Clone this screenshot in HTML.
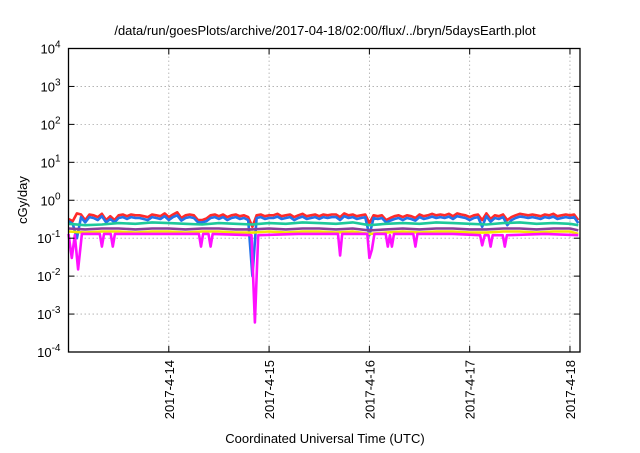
<!DOCTYPE html>
<html><head><meta charset="utf-8"><style>
body{margin:0;background:#fff;width:640px;height:448px;overflow:hidden}
svg{font-family:"Liberation Sans",Arial,sans-serif}
</style></head><body>
<svg id="chart" width="640" height="448" viewBox="0 0 640 448" xmlns="http://www.w3.org/2000/svg">
<rect width="640" height="448" fill="#fff"/>
<text x="325" y="35" font-size="13" text-anchor="middle" fill="#000">/data/run/goesPlots/archive/2017-04-18/02:00/flux/../bryn/5daysEarth.plot</text>
<text transform="translate(27,200) rotate(-90)" font-size="13" text-anchor="middle" fill="#000">cGy/day</text>
<text x="325" y="443" font-size="13" text-anchor="middle" fill="#000">Coordinated Universal Time (UTC)</text>
<g id="grid"></g><g id="series"></g><g id="axes"></g>
</svg>
<script>
const dayLabels=["2017-4-14","2017-4-15","2017-4-16","2017-4-17","2017-4-18"];
const dayTicks=[1,2,3,4,5];
const yExponents=[-4,-3,-2,-1,0,1,2,3,4];
const redValues=[.32,.28,.45,.42,.30,.42,.40,.36,.44,.30,.38,.30,.40,.42,.38,.42,.40,.40,.38,.36,.42,.40,.38,.45,.36,.42,.48,.34,.40,.42,.40,.30,.30,.33,.40,.42,.38,.42,.36,.40,.42,.38,.40,.36,.20,.40,.42,.38,.40,.40,.44,.38,.40,.42,.36,.40,.44,.38,.40,.42,.38,.42,.40,.42,.42,.36,.45,.40,.42,.38,.40,.42,.25,.40,.38,.40,.30,.34,.38,.40,.36,.40,.38,.34,.42,.38,.40,.44,.40,.42,.40,.44,.38,.45,.42,.40,.36,.40,.42,.30,.45,.32,.40,.38,.42,.30,.36,.40,.44,.42,.40,.42,.40,.38,.42,.40,.44,.38,.40,.42,.40,.42,.30];
const blueValues=[.28,.24,.10,.36,.26,.36,.34,.30,.38,.26,.32,.26,.34,.36,.32,.36,.34,.34,.32,.30,.36,.34,.32,.38,.30,.36,.40,.29,.34,.36,.34,.26,.26,.28,.34,.36,.32,.36,.30,.34,.36,.32,.34,.30,.01,.34,.36,.32,.34,.34,.37,.32,.34,.36,.30,.34,.37,.32,.34,.36,.32,.36,.34,.36,.36,.30,.38,.34,.36,.32,.34,.36,.12,.34,.32,.34,.26,.29,.32,.34,.30,.34,.32,.29,.36,.32,.34,.37,.34,.36,.34,.37,.32,.38,.36,.34,.30,.34,.36,.20,.38,.27,.34,.32,.36,.22,.30,.34,.37,.36,.34,.36,.34,.32,.36,.34,.37,.32,.34,.36,.34,.36,.25];
const slowTimes=[0,4,8,12,16,20,24,28,32,36,40,44,48,52,56,60,64,68,72,76,80,84,88,92,96,100,104,108,112,116,120,122];
const tealValues=[.24,.22,.23,.25,.24,.26,.25,.24,.23,.25,.24,.23,.25,.24,.26,.25,.24,.26,.22,.24,.25,.24,.26,.25,.24,.23,.25,.26,.24,.25,.24,.22];
const purpleValues=[.18,.17,.18,.18,.17,.18,.18,.17,.18,.18,.17,.17,.18,.17,.18,.18,.17,.18,.16,.17,.18,.17,.18,.18,.17,.17,.18,.18,.17,.18,.18,.16];
const yellowValues=[.15,.14,.15,.15,.14,.15,.15,.14,.15,.15,.14,.14,.15,.14,.15,.15,.14,.15,.13,.14,.15,.14,.15,.15,.14,.14,.15,.15,.14,.15,.15,.13];
const magentaTimes=[0,0.8,1.5,2.3,3.2,7.5,8,8.5,10.1,10.6,11.1,20,31.2,31.7,32.2,33.5,34,34.5,43.8,44.6,45.4,55,64.5,65,65.5,71.5,72,72.6,73.2,75.9,76.4,76.9,77.4,77.9,82.5,83,83.5,92,98.5,99,99.6,100.5,101,101.5,103.9,104.4,104.9,114,122];
const magentaValues=[.13,.03,.12,.015,.13,.13,.06,.13,.13,.06,.13,.13,.13,.06,.13,.13,.06,.13,.12,.0006,.12,.13,.13,.035,.13,.13,.03,.05,.13,.13,.06,.12,.06,.13,.13,.06,.13,.13,.12,.065,.12,.12,.06,.12,.12,.06,.12,.13,.12];
const X0=68.5,X1=580,Y0=48.5,Y1=352,DOMAIN_DAYS=5.1;
function xs(days){return X0+days/DOMAIN_DAYS*(X1-X0);}
function xh(h){return xs(h/24);}
function ys(v){const l=Math.log10(v);return Y1-(l+4)/8*(Y1-Y0);}
const NS="http://www.w3.org/2000/svg";
function mk(tag,parent,attrs){const e=document.createElementNS(NS,tag);for(const k in attrs)e.setAttribute(k,attrs[k]);parent.appendChild(e);return e;}
const grid=document.getElementById('grid'),axes=document.getElementById('axes'),ser=document.getElementById('series');
yExponents.forEach(p=>{const y=ys(Math.pow(10,p));
 if(p>-4&&p<4){const g=mk('line',grid,{x1:X0,x2:X1,y1:y,y2:y,stroke:'#aaa','stroke-width':0.8,'stroke-dasharray':'1.5,2.5'});
 
 }
 const t1=mk('line',axes,{x1:X0,x2:X0+6,y1:y,y2:y,stroke:'#000'});
 const t2=mk('line',axes,{x1:X1-6,x2:X1,y1:y,y2:y,stroke:'#000'});
 const t=mk('text',axes,{x:X0-8,y:y+5,'font-size':13,'text-anchor':'end'});
 
 
 t.innerHTML='10<tspan dy="-6" font-size="10">'+p+'</tspan>';});
dayTicks.forEach((d,i)=>{const x=xs(d);
 const g=mk('line',grid,{x1:x,x2:x,y1:Y0,y2:Y1,stroke:'#aaa','stroke-width':0.8,'stroke-dasharray':'1.5,2.5'});
 
 
 const a=mk('line',axes,{x1:x,x2:x,y1:Y1,y2:Y1-6,stroke:'#000'});
 const b=mk('line',axes,{x1:x,x2:x,y1:Y0,y2:Y0+6,stroke:'#000'});
 const t=mk('text',axes,{transform:'translate('+(x+5)+','+(Y1+8)+') rotate(-90)','font-size':13,'text-anchor':'end'});
 
 
 t.textContent=dayLabels[i];});
const fr=mk('rect',axes,{x:X0,y:Y0,width:X1-X0,height:Y1-Y0,fill:'none',stroke:'#000','stroke-width':1.3});


function line(times,vals,color,name,hourly){const pts=vals.map((v,i)=>xh(hourly?i:times[i]).toFixed(1)+','+ys(v).toFixed(1)).join(' ');
 const p=mk('polyline',ser,{points:pts,fill:'none',stroke:color,'stroke-width':2.6,'stroke-linejoin':'round'});
 
 }
line(null,redValues,'#ff2a2a','series-red',true);
line(null,blueValues,'#2473ea','series-blue',true);
line(slowTimes,tealValues,'#1ec99a','series-teal',false);
line(slowTimes,purpleValues,'#8a3f9a','series-purple',false);
line(slowTimes,yellowValues,'#f2e400','series-yellow',false);
line(magentaTimes,magentaValues,'#ff10ff','series-magenta',false);
</script>
</body></html>
